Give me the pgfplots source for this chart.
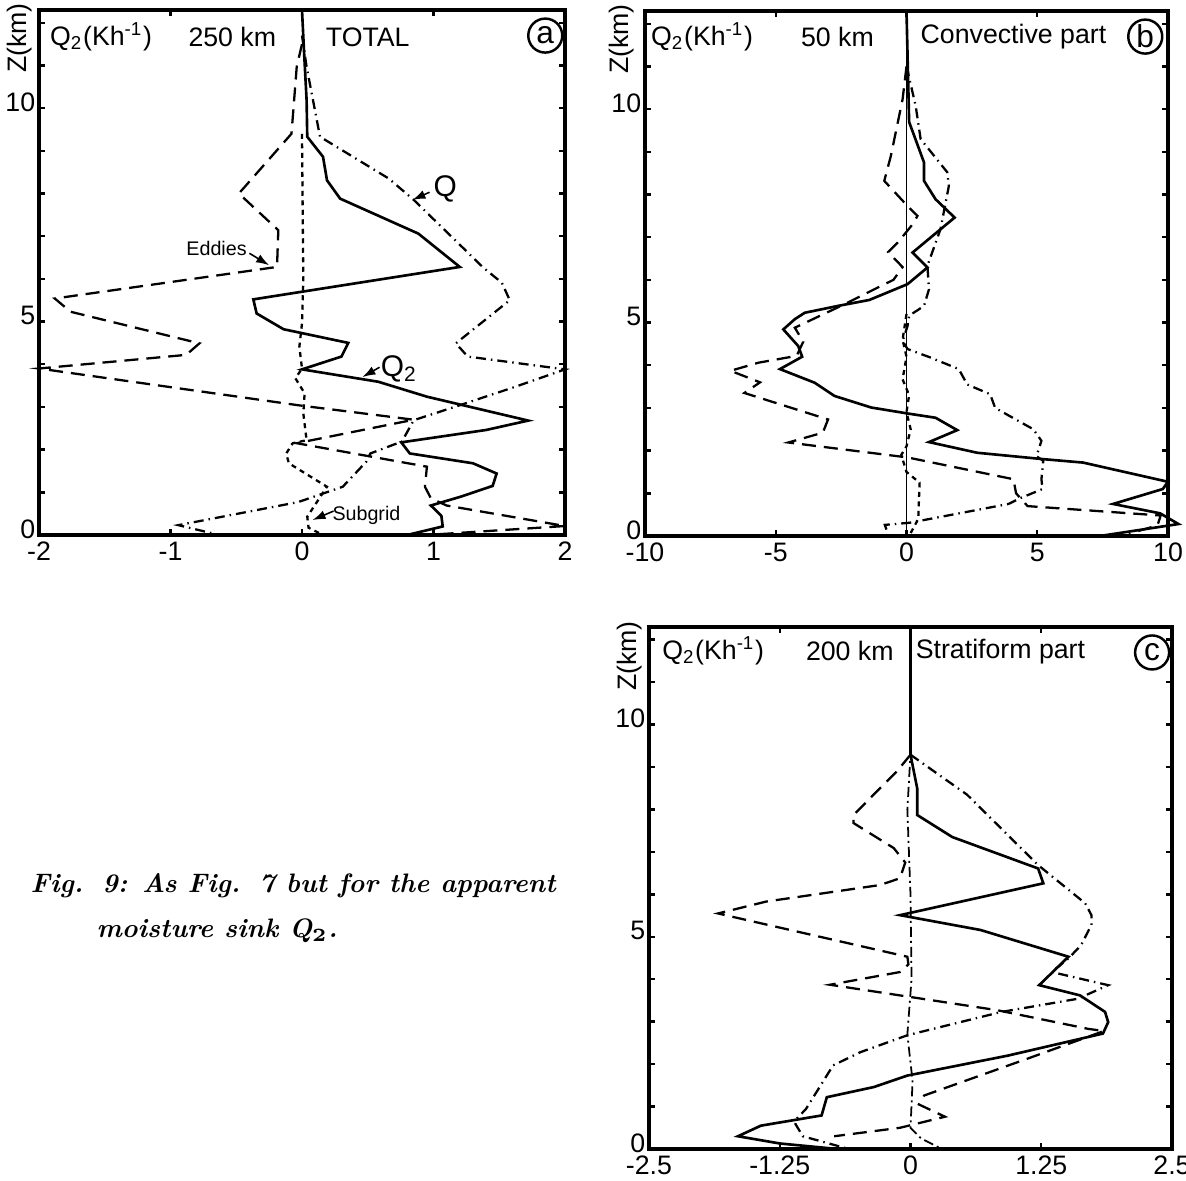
\documentclass[border=0pt]{standalone}
\usepackage{fontspec}
\setsansfont{Liberation Sans}
\usepackage{pgfplots}
\pgfplotsset{compat=1.18}
\usetikzlibrary{arrows.meta}

\newcommand{\lab}{\sffamily\fontsize{7.6}{8}\selectfont}
\newcommand{\qlab}{Q\textsubscript{2}(Kh\textsuperscript{-1})}
\newcommand{\capfont}{\fontsize{7.6}{10}\selectfont\bfseries\itshape}

\pgfplotsset{
  qpanel/.style={
    scale only axis,
    ymin=0, ymax=12.3,
    clip=false,
    axis line style={line width=1.0pt},
    ytick={0,...,12},
    yticklabels={0,,,,,5,,,,,10,,},
    major tick length=0.6mm,
    tick style={line width=0.7pt, black},
    tick label style={font=\lab},
    yticklabel style={inner xsep=0.6pt, inner ysep=0pt, xshift=-0.1mm, yshift=0.6mm},
    xticklabel style={inner ysep=0pt, yshift=-0.6mm},
  },
  qtwo/.style={black, line width=0.75pt},
  qtot/.style={black, line width=0.65pt, dash pattern=on 1.0mm off 0.5mm on 0.15mm off 0.5mm},
  eddy/.style={black, line width=0.65pt, dash pattern=on 1.4mm off 0.8mm},
  sub/.style={black, line width=0.65pt, dash pattern=on 0.5mm off 0.45mm},
}
\tikzset{
  tag/.style={circle, draw, line width=0.7pt, inner sep=0pt, minimum size=3.4mm, font=\sffamily\fontsize{9}{9}\selectfont},
  pointer/.style={-{Latex[length=1.3mm,width=0.9mm]}, line width=0.45pt},
  ttl/.style={font=\lab, inner sep=0pt},
}

\begin{document}
\begin{tikzpicture}
\path[use as bounding box] (0,0) rectangle (118.6mm,118.1mm);

% (a) total
\begin{axis}[qpanel, at={(3.9mm,64.6mm)}, anchor=south west,
  width=52.6mm, height=52.5mm, xmin=-2, xmax=2,
  xtick={-2,-1,0,1,2}, xticklabels={-2,-1,0,1,2}]
\addplot[qtwo] coordinates {
(0,12.3) (0.015,11.36) (0.035,10.19) (0.04,9.33) (0.16,8.86) (0.19,8.31) (0.29,7.88)
(0.885,7.06) (1.20,6.28) (-0.37,5.52) (-0.345,5.19) (-0.14,4.82) (0.352,4.5) (0.30,4.18)
(0,3.88) (0.58,3.59) (0.95,3.24) (1.72,2.68) (1.40,2.46) (0.755,2.17) (0.82,1.91)
(1.30,1.68) (1.48,1.44) (1.45,1.15) (1.21,0.9) (0.98,0.69) (1.06,0.45) (1.07,0.2) (0.80,0.0)};
\addplot[qtot] coordinates {
(0,11.7) (0.035,10.97) (0.137,9.33) (0.66,8.35) (0.85,7.85) (1.38,6.26) (1.52,5.91)
(1.58,5.5) (1.17,4.49) (1.26,4.18) (2.0,3.88) (1.62,3.47) (1.23,3.07) (0.85,2.69)
(0.76,2.19) (0.52,1.91) (0.49,1.72) (0.31,1.13) (-0.03,0.77) (-0.94,0.23) (-0.63,0.0)};
\addplot[eddy] coordinates {
(0,11.5) (-0.04,10.97) (-0.08,9.4) (-0.48,8.0) (-0.18,7.14) (-0.19,6.28) (-1.88,5.54)
(-1.76,5.23) (-0.78,4.49) (-0.88,4.22) (-2.0,3.9) (-0.03,3.04) (0.85,2.7) (-0.04,2.15)
(0.95,1.6) (0.935,1.13) (0.98,0.86) (1.1,0.69) (2.0,0.21) (0.95,0.0)};
\addplot[sub] coordinates {
(0,9.4) (0.01,5.97) (0,4.96) (-0.02,4.41) (0,3.9) (-0.05,3.67) (0.02,3.32) (0.01,2.85)
(0.035,2.22) (-0.07,2.15) (-0.12,1.91) (-0.1,1.68) (0.19,1.13) (0.04,0.43) (0.05,0.17) (0.16,0.0)};
\node[ttl, anchor=west] at (axis cs:-1.92,11.67) {\qlab};
\node[ttl] at (axis cs:-0.53,11.67) {250 km};
\node[ttl] at (axis cs:0.50,11.67) {TOTAL};
\node[tag] at (axis cs:1.85,11.7) {a};
\node[font=\lab, xshift=-1.9mm, yshift=-2.8mm, rotate=90] at (rel axis cs:0,1) {Z(km)};
\node[font=\sffamily\fontsize{5.6}{6}\selectfont] at (axis cs:-0.65,6.72) {Eddies};
\draw[pointer] (axis cs:-0.40,6.6) -- (axis cs:-0.25,6.32);
\node[font=\sffamily\fontsize{8.5}{9}\selectfont] at (axis cs:1.09,8.1) {Q};
\draw[pointer] (axis cs:0.97,8.03) -- (axis cs:0.84,7.85);
\node[font=\sffamily\fontsize{8.5}{9}\selectfont] at (axis cs:0.74,3.88) {Q\textsubscript{2}};
\draw[pointer] (axis cs:0.59,3.93) -- (axis cs:0.46,3.70);
\node[font=\sffamily\fontsize{5.6}{6}\selectfont] at (axis cs:0.49,0.47) {Subgrid};
\draw[pointer] (axis cs:0.24,0.56) -- (axis cs:0.08,0.35);
\end{axis}

% (b) convective
\begin{axis}[qpanel, at={(64.5mm,64.5mm)}, anchor=south west,
  width=52.3mm, height=52.5mm, xmin=-10, xmax=10,
  xtick={-10,-5,0,5,10}, xticklabels={-10,-5,0,5,10}]
\addplot[black, line width=0.55pt] coordinates {(0,0) (0,12.3)};
\addplot[qtwo] coordinates {
(0,12.3) (0.1,9.7) (0.67,8.75) (0.67,8.32) (1.11,7.89) (1.84,7.46) (0.23,6.64) (0.8,6.29)
(0.04,5.9) (-1.42,5.53) (-2.62,5.39) (-3.89,5.23) (-4.27,5.08) (-4.71,4.84) (-4.14,4.45)
(-3.99,4.2) (-4.84,3.91) (-3.51,3.59) (-2.75,3.28) (-1.35,3.01) (0.04,2.87) (1.11,2.77)
(1.94,2.48) (0.86,2.2) (2.7,1.95) (5.23,1.8) (6.75,1.72) (10,1.27) (9.8,1.1) (7.9,0.75)
(9.7,0.53) (10.4,0.28) (7.4,0.0)};
\addplot[qtot] coordinates {
(0,11.0) (0.35,10.08) (0.54,9.3) (1.56,8.52) (1.62,8.2) (1.3,7.19) (0.8,6.33) (0.86,5.78)
(0.67,5.39) (0.1,5.16) (0.04,4.92) (-0.15,4.57) (0.04,4.38) (0.92,4.18) (2.0,3.91)
(2.32,3.55) (3.2,3.32) (3.39,3.0) (4.85,2.5) (5.16,2.23) (4.97,1.87) (5.23,1.76)
(5.16,1.33) (5.2,1.1) (4.33,0.88) (3.9,0.75) (0.12,0.31) (-0.83,0.26) (-0.68,0.0)};
\addplot[eddy] coordinates {
(0,11.0) (-0.15,10.23) (-0.6,8.9) (-0.85,8.32) (0.04,7.73) (0.42,7.5) (0.23,7.3)
(-0.3,6.9) (-0.7,6.65) (-0.15,6.3) (-0.5,6.0) (-0.97,5.86) (-2.37,5.43) (-4.27,4.88)
(-3.95,4.55) (-4.2,4.22) (-5.66,4.06) (-6.73,3.87) (-5.6,3.6) (-6.2,3.35) (-3.0,2.73)
(-3.2,2.42) (-4.52,2.19) (0.04,1.84) (4.09,1.33) (4.19,1.0) (4.63,0.70) (9.72,0.48)
(9.6,0.25) (8.5,0.05)};
\addplot[sub] coordinates {
(0,5.2) (-0.15,4.6) (0,4.2) (-0.15,3.67) (0.1,3.3) (0,2.9) (0.16,2.5) (0,2.1) (-0.2,1.9)
(0,1.5) (0.5,1.25) (0.45,0.4) (0.1,0.0)};
\node[ttl, anchor=west] at (axis cs:-9.79,11.69) {\qlab};
\node[ttl] at (axis cs:-2.64,11.69) {50 km};
\node[ttl] at (axis cs:4.09,11.69) {Convective part};
\node[tag] at (axis cs:9.13,11.7) {b};
\node[font=\lab, xshift=-2.3mm, yshift=-2.8mm, rotate=90] at (rel axis cs:0,1) {Z(km)};
\end{axis}

% (c) stratiform
\begin{axis}[qpanel, at={(64.9mm,3.2mm)}, anchor=south west,
  width=52.3mm, height=52.2mm, xmin=-2.5, xmax=2.5,
  xtick={-2.5,-1.25,0,1.25,2.5}, xticklabels={-2.5,-1.25,0,1.25,2.5}]
\addplot[black, line width=0.5pt, dash pattern=on 1.0mm off 0.4mm on 0.2mm off 0.4mm] coordinates {
(0,12.3) (0,9.3) (-0.03,8.0) (0,6.0) (0.01,4.0) (-0.03,2.7) (0.02,1.6) (0,0.5) (0.1,0.25) (0.3,0.0)};
\addplot[qtwo] coordinates {
(0,12.3) (0,9.29) (0.064,8.5) (0.064,7.87) (0.40,7.35) (1.22,6.61) (1.27,6.26) (-0.1,5.51)
(0.67,5.16) (1.51,4.53) (1.23,3.86) (1.62,3.62) (1.86,3.23) (1.89,2.99) (1.84,2.72)
(0.93,2.2) (-0.03,1.73) (-0.35,1.46) (-0.8,1.22) (-0.85,0.79) (-1.43,0.55) (-1.65,0.3)
(-1.25,0.13) (-0.7,0.0)};
\addplot[qtot] coordinates {
(0,9.29) (0.54,8.35) (1.22,6.69) (1.67,5.79) (1.73,5.51) (1.73,5.28) (1.63,4.8) (1.51,4.49)
(1.35,4.17) (1.89,3.86) (1.6,3.54) (0.87,3.23) (-0.03,2.68) (-0.48,2.28) (-0.74,1.97)
(-1.0,0.94) (-1.09,0.71) (-1.1,0.59) (-1.03,0.3) (-0.59,0.0)};
\addplot[eddy] coordinates {
(0,9.29) (-0.13,8.9) (-0.545,7.87) (-0.545,7.68) (-0.16,7.09) (-0.05,6.75) (-0.1,6.38)
(-0.29,6.22) (-1.38,5.83) (-1.84,5.55) (-1.7,5.47) (-0.03,4.53) (-0.02,4.35) (-0.1,4.17)
(-0.77,3.87) (0.83,3.27) (1.7,2.83) (1.85,2.78) (1.12,2.13) (0.13,1.26) (0.08,1.05)
(0.33,0.76) (-0.1,0.5) (-0.73,0.3)};
\node[ttl, anchor=west] at (axis cs:-2.38,11.73) {\qlab};
\node[ttl] at (axis cs:-0.58,11.73) {200 km};
\node[ttl] at (axis cs:0.86,11.73) {Stratiform part};
\node[tag] at (axis cs:2.31,11.7) {c};
\node[font=\lab, xshift=-1.95mm, yshift=-2.9mm, rotate=90] at (rel axis cs:0,1) {Z(km)};
\end{axis}

\node[anchor=west, inner sep=0pt, font=\capfont] at (3.0mm,29.5mm) {Fig.\hspace{0.7em}9: As Fig.\hspace{0.7em}7 but for the apparent};
\node[anchor=west, inner sep=0pt, font=\capfont] at (9.6mm,25.0mm) {moisture sink Q\textsubscript{\upshape 2}.};
\end{tikzpicture}
\end{document}
